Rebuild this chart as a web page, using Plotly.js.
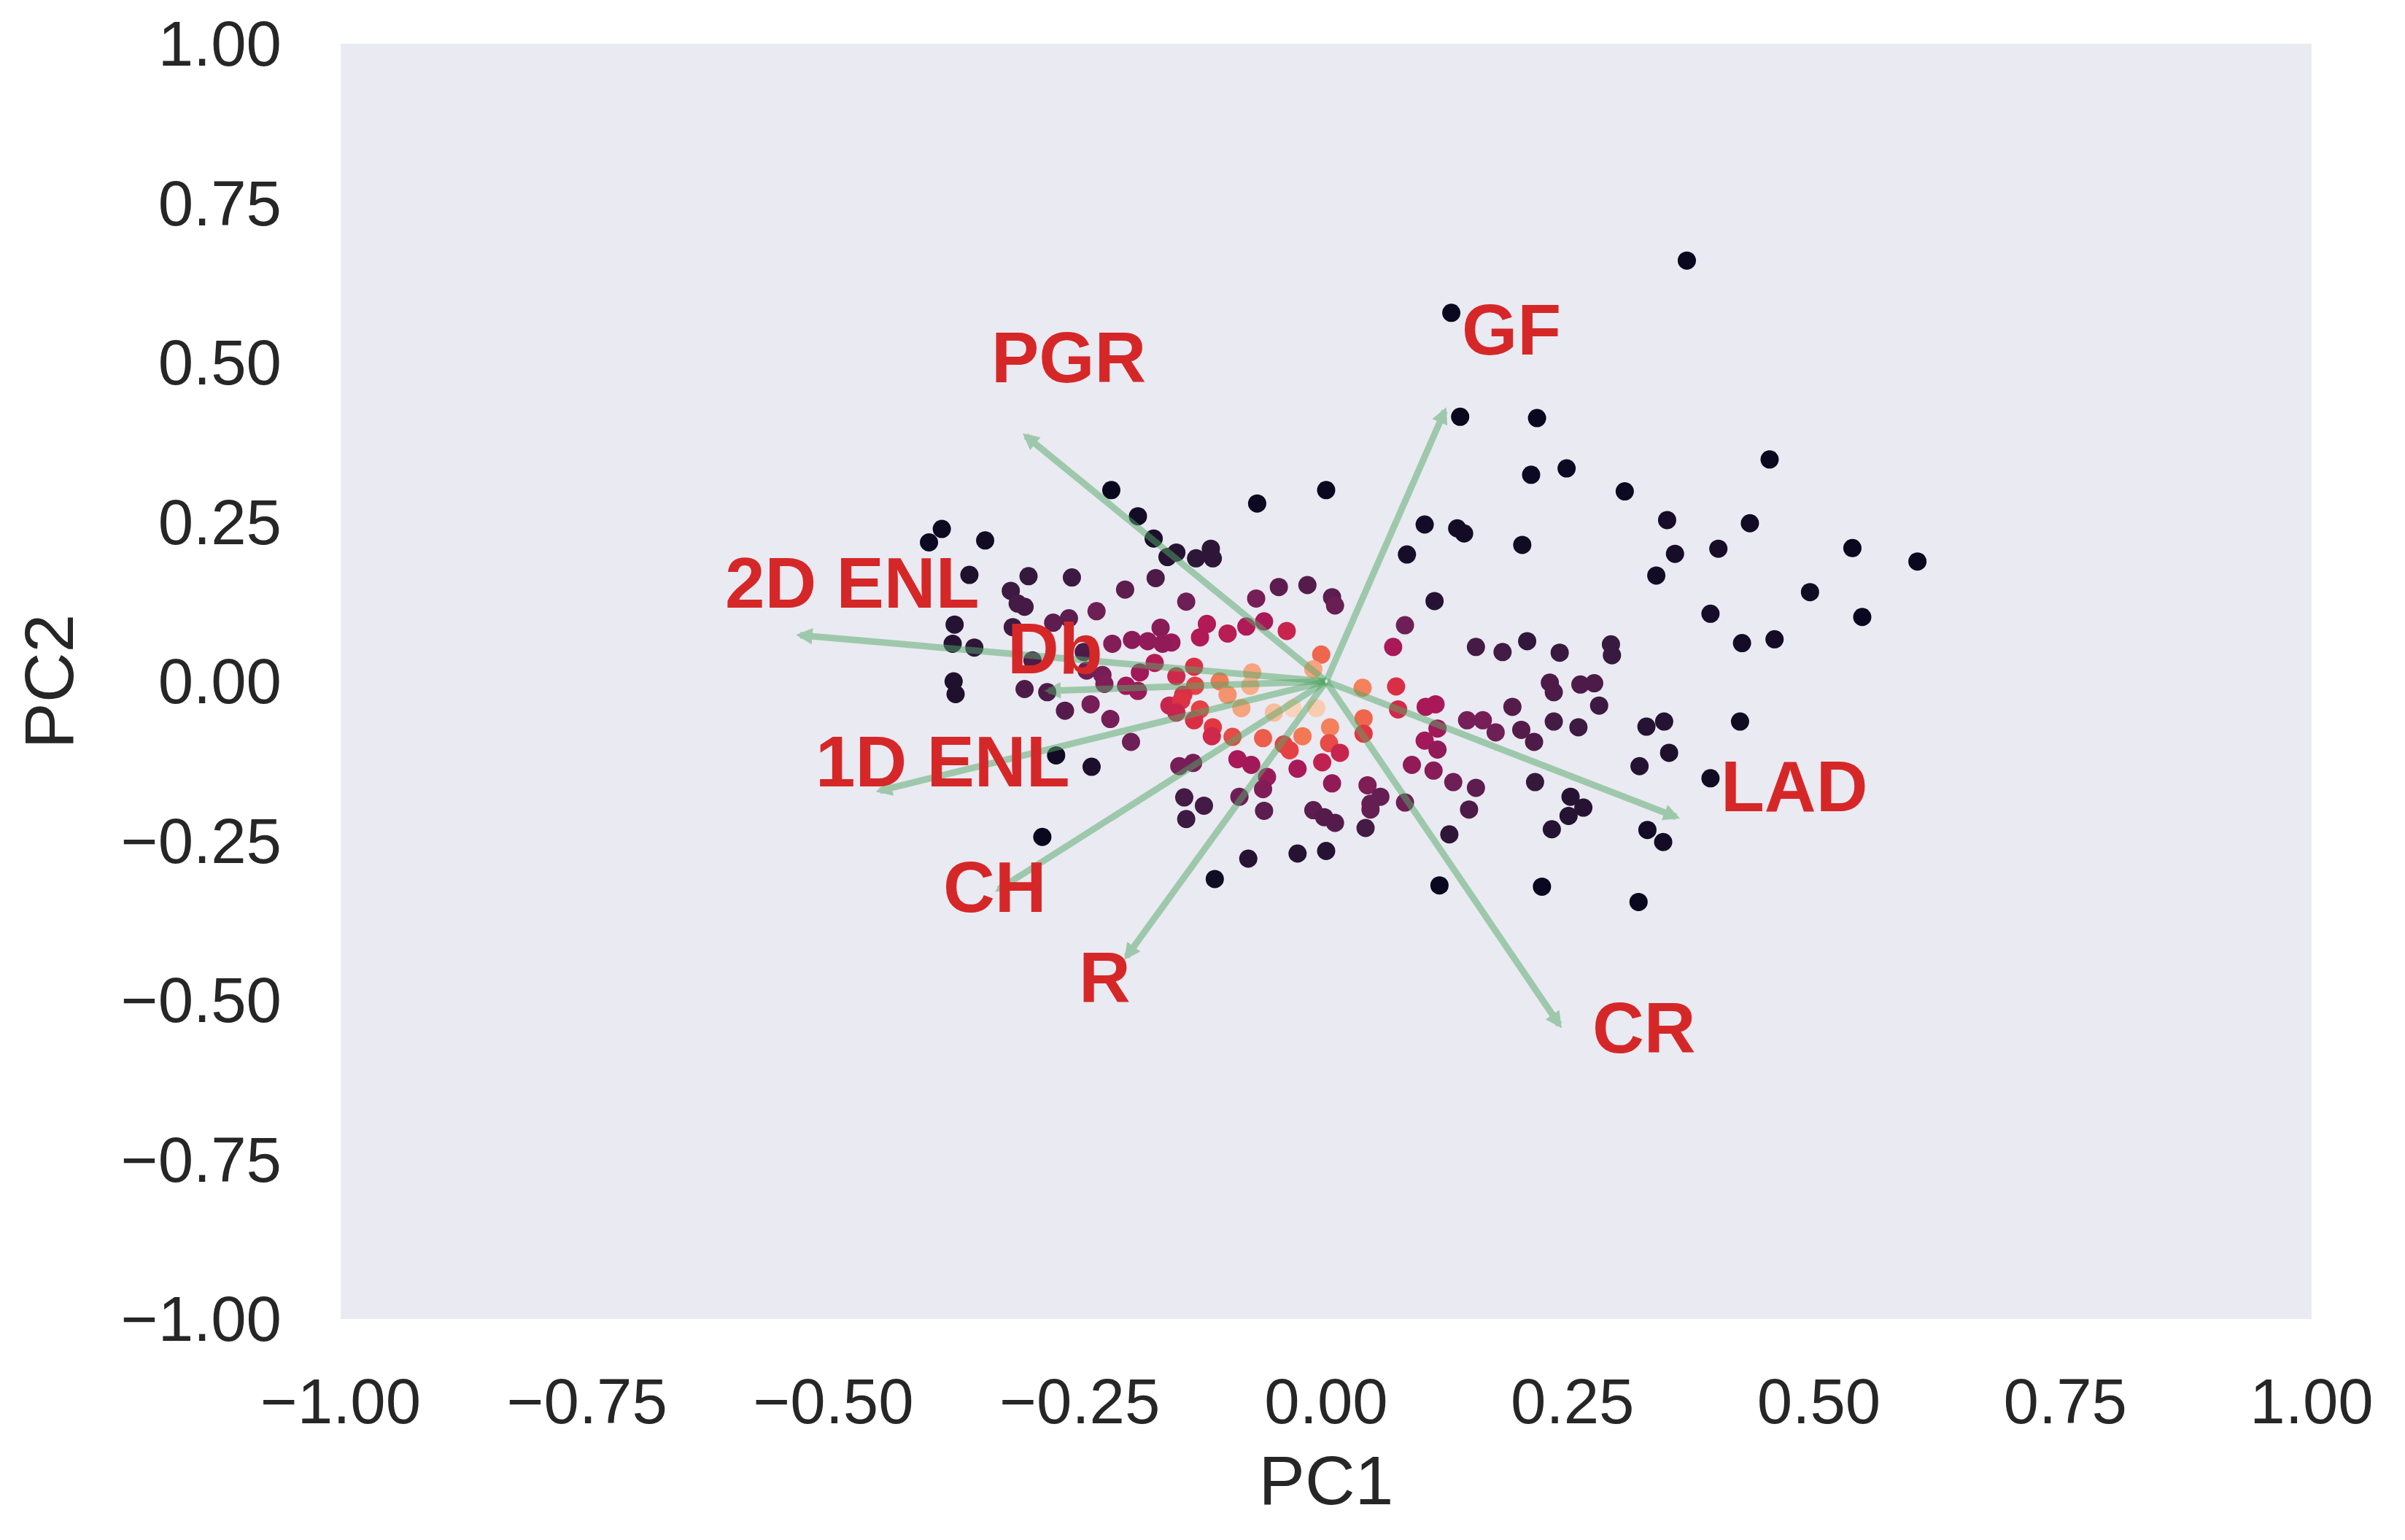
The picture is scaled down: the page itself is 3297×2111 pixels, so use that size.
<!DOCTYPE html>
<html>
<head>
<meta charset="utf-8">
<script src="https://cdn.plot.ly/plotly-3.0.1.min.js"></script>
<style>html,body{margin:0;padding:0;background:#fff;}#chart{width:3297px;height:2111px;}</style>
</head>
<body>
<div id="chart"></div>
<script>
// ---- Scores (PC1, PC2) and colour value of each sample ----
const pc1 = [
 0.366,0.450,0.303,0.346,0.430,0.354,0.398,0.335,0.534,0.600,0.491,0.390,0.544,0.422,0.455,0.289,0.290,
 0.127,0.136,0.214,
 0.000,-0.070,0.208,0.244,0.100,0.133,0.140,0.082,0.199,0.110,0.080,0.068,0.152,0.179,0.204,0.237,0.227,0.231,0.258,0.272,
 -0.071,-0.048,-0.019,0.006,0.009,-0.081,-0.063,-0.040,-0.005,-0.013,0.037,0.071,
 -0.218,-0.191,-0.175,-0.161,-0.152,-0.132,-0.117,-0.115,-0.390,-0.403,-0.346,-0.362,-0.302,-0.258,-0.320,-0.313,-0.306,
 -0.204,-0.173,-0.142,-0.233,-0.277,-0.261,-0.377,-0.379,-0.357,-0.318,-0.298,-0.246,-0.217,-0.197,-0.181,-0.168,-0.157,
 -0.166,-0.128,-0.121,-0.100,-0.174,-0.134,-0.189,-0.152,-0.227,-0.243,-0.108,-0.075,-0.077,-0.100,-0.378,-0.376,-0.306,
 -0.283,-0.225,-0.203,-0.191,-0.133,-0.145,
 -0.265,-0.239,-0.219,-0.198,-0.159,-0.147,-0.128,-0.134,-0.152,-0.086,-0.115,-0.116,-0.095,-0.090,-0.076,-0.149,-0.135,
 -0.274,-0.238,-0.144,-0.124,-0.142,-0.088,-0.288,-0.079,-0.113,
 -0.053,-0.034,-0.010,0.073,0.101,0.111,0.038,0.038,0.004,0.003,0.014,-0.024,-0.064,-0.043,-0.037,-0.004,-0.029,-0.060,
 -0.064,-0.063,0.006,-0.013,-0.002,0.009,0.042,0.055,0.045,0.045,0.040,0.080,0.087,0.109,0.129,0.152,0.145,0.125,0.100,
 0.113,0.113,0.143,0.159,0.172,0.189,0.198,0.211,0.231,0.256,0.212,0.248,0.261,0.246,0.229,-0.029,0.000,0.115,0.219,
 0.277,0.325,0.343,0.348,0.318,0.420,0.390,0.326,0.342,0.317
];
const pc2 = [
 0.660,0.348,0.298,0.253,0.248,0.200,0.208,0.166,0.209,0.188,0.140,0.106,0.101,0.060,0.066,0.058,0.041,
 0.578,0.415,0.413,
 0.300,0.279,0.324,0.334,0.246,0.240,0.232,0.199,0.214,0.126,0.088,0.054,0.054,0.046,0.063,0.045,-0.002,-0.017,-0.005,-0.003,
 0.130,0.148,0.151,0.132,0.119,0.086,0.094,0.079,0.042,0.019,-0.010,-0.008,
 0.300,0.259,0.224,0.195,0.202,0.193,0.208,0.193,0.239,0.218,0.221,0.167,0.165,0.163,0.142,0.122,0.117,
 0.144,0.162,0.125,0.110,0.092,0.099,0.089,0.059,0.053,0.085,0.033,0.046,0.059,0.065,0.063,0.084,0.061,
 0.059,0.069,0.090,0.075,0.029,0.023,0.014,0.008,0.010,0.017,0.000,0.014,-0.007,-0.021,0.000,-0.020,-0.012,
 -0.017,-0.004,-0.007,-0.015,-0.007,-0.021,
 -0.046,-0.036,-0.059,-0.095,-0.038,-0.030,-0.044,-0.061,-0.049,-0.042,-0.072,-0.086,-0.087,-0.122,-0.131,-0.133,-0.128,
 -0.116,-0.134,-0.182,-0.195,-0.216,-0.181,-0.244,-0.278,-0.310,
 -0.049,-0.042,-0.042,-0.044,-0.040,-0.036,-0.058,-0.082,-0.072,-0.097,-0.112,-0.086,-0.089,-0.099,-0.108,-0.127,-0.137,-0.150,
 -0.169,-0.203,-0.160,-0.202,-0.213,-0.222,-0.163,-0.181,-0.192,-0.201,-0.230,-0.190,-0.131,-0.140,-0.158,-0.167,-0.201,-0.240,-0.093,
 -0.074,-0.107,-0.061,-0.061,-0.080,-0.040,-0.076,-0.095,-0.063,-0.072,-0.158,-0.181,-0.198,-0.211,-0.232,-0.270,-0.266,-0.320,-0.322,
 -0.038,-0.071,-0.063,-0.112,-0.133,-0.063,-0.152,-0.233,-0.252,-0.346
];
const colorValue = [
 0.02,0.02,0.03,0.06,0.04,0.06,0.06,0.05,0.02,0.02,0.04,0.06,0.02,0.05,0.05,0.15,0.15,
 0.02,0.02,0.02,
 0.02,0.03,0.03,0.03,0.05,0.05,0.05,0.06,0.04,0.10,0.28,0.42,0.18,0.18,0.13,0.15,0.20,0.20,0.20,0.20,
 0.30,0.24,0.22,0.24,0.27,0.44,0.42,0.50,0.68,0.82,0.74,0.55,
 0.02,0.05,0.07,0.10,0.10,0.12,0.12,0.12,0.03,0.03,0.04,0.08,0.14,0.16,0.16,0.18,0.18,
 0.24,0.20,0.28,0.28,0.24,0.24,0.10,0.10,0.12,0.16,0.20,0.20,0.33,0.35,0.36,0.34,0.38,
 0.36,0.44,0.44,0.46,0.45,0.55,0.40,0.52,0.30,0.28,0.72,0.82,0.84,0.78,0.08,0.08,0.20,
 0.20,0.32,0.40,0.38,0.60,0.55,
 0.22,0.30,0.30,0.28,0.50,0.56,0.60,0.55,0.50,0.82,0.58,0.52,0.62,0.42,0.40,0.30,0.30,
 0.04,0.07,0.18,0.18,0.16,0.28,0.02,0.10,0.04,
 0.88,0.94,0.92,0.53,0.42,0.42,0.68,0.58,0.74,0.62,0.50,0.72,0.66,0.60,0.60,0.48,0.42,0.38,
 0.32,0.24,0.36,0.24,0.22,0.22,0.32,0.26,0.26,0.26,0.18,0.28,0.36,0.34,0.28,0.24,0.20,0.12,0.40,
 0.40,0.36,0.30,0.30,0.28,0.22,0.22,0.20,0.18,0.16,0.14,0.10,0.10,0.10,0.10,0.10,0.10,0.02,0.02,
 0.16,0.10,0.10,0.08,0.10,0.04,0.04,0.05,0.05,0.02
];

// ---- Loadings (arrow tips) and their label anchors ----
const loadingNames = ['GF','PGR','2D ENL','Db','1D ENL','CH','R','CR','LAD'];
const loadingPC1   = [0.122,-0.308,-0.538,-0.286,-0.457,-0.336,-0.205,0.239,0.359];
const loadingPC2   = [0.430,0.389,0.073,-0.015,-0.173,-0.330,-0.437,-0.544,-0.215];
const labelPC1     = [0.188,-0.261,-0.481,-0.275,-0.389,-0.336,-0.225,0.323,0.4745];
const labelPC2     = [0.552,0.508,0.155,0.051,-0.126,-0.323,-0.464,-0.544,-0.165];

const tickVals = [-1,-0.75,-0.5,-0.25,0,0.25,0.5,0.75,1];

const rocket = [
 [0,'#03051a'],[0.143,'#35193e'],[0.286,'#701f57'],[0.429,'#ad1759'],
 [0.571,'#e13342'],[0.714,'#f37651'],[0.857,'#f6b48f'],[1,'#faebdd']
];

const trace = {
  type:'scatter', mode:'markers', x:pc1, y:pc2,
  marker:{size:25, color:colorValue, colorscale:rocket, cmin:0, cmax:1, line:{width:0}},
  hoverinfo:'skip', showlegend:false
};

const annotations = [];
loadingNames.forEach((n,i)=>{
  annotations.push({
    x:loadingPC1[i], y:loadingPC2[i], xref:'x', yref:'y',
    ax:0, ay:0, axref:'x', ayref:'y',
    text:'', showarrow:true, arrowhead:2, arrowsize:0.5, arrowwidth:9,
    arrowcolor:'rgba(85,168,104,0.5)', standoff:0, startstandoff:0
  });
});
loadingNames.forEach((n,i)=>{
  annotations.push({
    x:labelPC1[i], y:labelPC2[i], xref:'x', yref:'y',
    text:'<b>'+n+'</b>', showarrow:false, xanchor:'center', yanchor:'middle',
    font:{family:'Liberation Sans, Arial, sans-serif', size:98, color:'#d62728'}
  });
});

const axisFont = {family:'Liberation Sans, Arial, sans-serif', size:87, color:'#262626'};
const titleFont = {family:'Liberation Sans, Arial, sans-serif', size:95, color:'#262626'};

const layout = {
  width:3297, height:2111,
  margin:{l:467, r:128, t:60, b:303, pad:0},
  paper_bgcolor:'#ffffff', plot_bgcolor:'#eaeaf2',
  xaxis:{range:[-1,1], tickvals:tickVals, tickformat:'.2f', showgrid:false, zeroline:false,
         showline:false, ticks:'', tickfont:axisFont, ticklabelstandoff:55,
         title:{text:'PC1', font:titleFont, standoff:27}},
  yaxis:{range:[-1,1], tickvals:tickVals, tickformat:'.2f', showgrid:false, zeroline:false,
         showline:false, ticks:'', tickfont:axisFont, ticklabelstandoff:80,
         title:{text:'PC2', font:titleFont, standoff:33}},
  annotations:annotations,
  showlegend:false
};

Plotly.newPlot('chart',[trace],layout,{staticPlot:true});
</script>
</body>
</html>
